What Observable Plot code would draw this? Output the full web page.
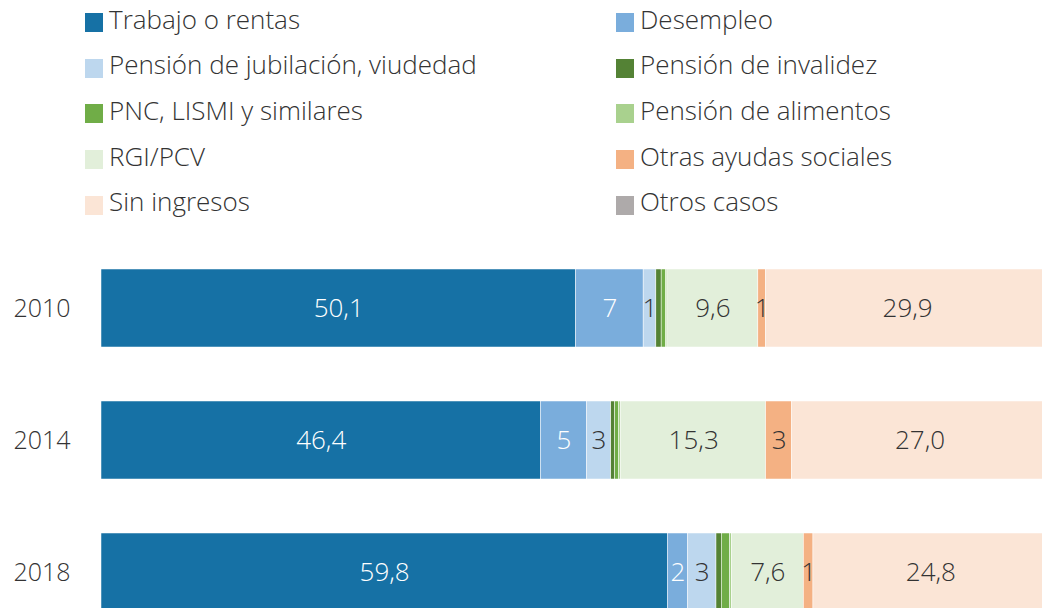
<!DOCTYPE html>
<html><head><meta charset="utf-8">
<script src="https://cdn.jsdelivr.net/npm/d3@7"></script>
<script src="https://cdn.jsdelivr.net/npm/@observablehq/plot@0.6"></script>
<style>
html,body{margin:0;padding:0;background:#fff;overflow:hidden;width:1042px;height:608px}
body{font-family:"Open Sans",sans-serif;font-weight:300;color:#333}
#legend{position:relative;height:214px}
.item{position:absolute;display:flex;align-items:center;font-size:26px;line-height:1;white-space:nowrap;height:19px}
.sw{width:18px;height:19px;margin-right:6px;flex:none}
.lt{position:relative;top:-4px}
#chart svg text{font-family:"Open Sans",sans-serif;font-weight:300}
</style></head><body>
<div id="legend"></div><div id="chart"></div>
<script>
const years = ["2010", "2014", "2018"];
const categories = ["Trabajo o rentas", "Desempleo", "Pensión de jubilación, viudedad", "Pensión de invalidez",
  "PNC, LISMI y similares", "Pensión de alimentos", "RGI/PCV", "Otras ayudas sociales", "Sin ingresos", "Otros casos"];
const values2010 = [50.1, 7.15, 1.34, 0.56, 0.46, 0.15, 9.6, 0.81, 29.9, 0.1];
const values2014 = [46.4, 4.85, 2.57, 0.42, 0.39, 0.25, 15.3, 2.75, 27.0, 0.1];
const values2018 = [59.8, 2.11, 3.03, 0.56, 0.85, 0.21, 7.6, 1.02, 24.8, 0.1];
const labels2010 = ["50,1", "7", "1", "", "", "", "9,6", "1", "29,9", ""];
const labels2014 = ["46,4", "5", "3", "", "", "", "15,3", "3", "27,0", ""];
const labels2018 = ["59,8", "2", "3", "", "", "", "7,6", "1", "24,8", ""];
const colors = ["#1671a5", "#7aaddc", "#bdd7ee", "#548235", "#70ad47", "#a9d18e", "#e2efda", "#f4b183", "#fbe5d6", "#aeaaaa"];
const whiteLabelCats = ["Trabajo o rentas", "Desempleo"];

const seriesValues = [values2010, values2014, values2018];
const seriesLabels = [labels2010, labels2014, labels2018];
const data = years.flatMap((yr, i) => categories.map((c, j) => ({year: yr, cat: c, value: seriesValues[i][j], label: seriesLabels[i][j]})));

// legend (two columns, order row-wise)
const legend = document.getElementById("legend");
categories.forEach((c, i) => {
  const row = Math.floor(i / 2), col = i % 2;
  const it = document.createElement("div");
  it.className = "item";
  it.style.left = (col ? 616 : 85) + "px";
  it.style.top = (13 + row * 45.7) + "px";
  it.innerHTML = `<span class="sw" style="background:${colors[i]}"></span><span class="lt">${c}</span>`;
  legend.appendChild(it);
});

const stackOpts = {x: "value", y: "year", z: "cat", order: categories};
const chart = Plot.plot({
  width: 1042, height: 466,
  marginLeft: 101, marginRight: -6, marginTop: 0, marginBottom: 14,
  x: {domain: [0, 100], axis: null},
  y: {domain: years, padding: 0.41, label: null, tickSize: 0, tickPadding: 31},
  color: {domain: categories, range: colors},
  style: {fontFamily: "Open Sans", fontSize: "25px", color: "#333", background: "white"},
  marks: [
    Plot.barX(data, Plot.stackX({...stackOpts, fill: "cat", stroke: "white", strokeWidth: 0.5})),
    Plot.text(data, Plot.stackX({...stackOpts, text: d => whiteLabelCats.includes(d.cat) ? d.label : null, fill: "white", fontSize: 26})),
    Plot.text(data, Plot.stackX({...stackOpts, text: d => whiteLabelCats.includes(d.cat) ? null : d.label, fill: "#333", fontSize: 26}))
  ]
});
document.getElementById("chart").appendChild(chart);
</script>
</body></html>
